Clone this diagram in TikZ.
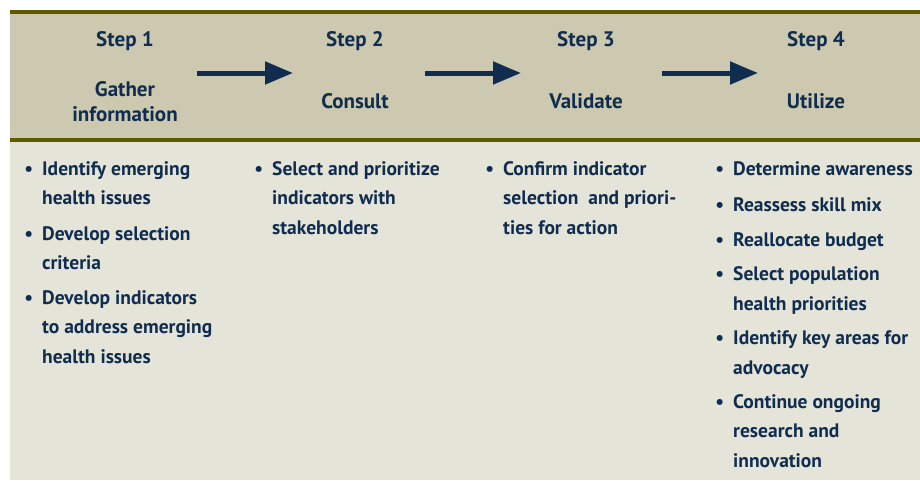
\documentclass[tikz,border=0pt]{standalone}
\usepackage{fontspec}
\setmainfont{PT Sans}
\usetikzlibrary{arrows.meta}
\definecolor{hdrfill}{HTML}{CCC9B0}
\definecolor{bodyfill}{HTML}{E5E4D8}
\definecolor{oliveline}{HTML}{5F5A00}
\definecolor{navy}{HTML}{102D50}
\tikzset{
  hd/.style={anchor=base, text=navy, font=\bfseries\fontsize{21}{25}\selectfont, inner sep=0pt, align=center},
  itm/.style={anchor=base west, text=navy, font=\bfseries\fontsize{19.5}{29.5}\selectfont, inner sep=0pt, align=left},
  flow/.style={navy, line width=5pt, -{Triangle[length=28pt,width=22pt]}}
}
\newcommand{\bul}{\llap{\textbullet\hspace{9pt}}}
\begin{document}
\begin{tikzpicture}[x=1pt,y=-1pt]
\useasboundingbox (0,0) rectangle (920,480);
\fill[hdrfill] (10,12) rectangle (920,140);
\fill[bodyfill] (10,140) rectangle (920,480);
\draw[oliveline, line width=4pt] (10,12) -- (920,12);
\draw[oliveline, line width=4pt] (10,140) -- (920,140);
% headers
\node[hd] (s1) at (125,46) {Step 1};
\node[hd] (s2) at (355,46) {Step 2};
\node[hd] (s3) at (586,46) {Step 3};
\node[hd] (s4) at (816,46) {Step 4};
\node[hd] (t1a) at (125,96) {Gather};
\node[hd] (t1b) at (125,121) {information};
\node[hd] (t2) at (355,108) {Consult};
\node[hd] (t3) at (586,108) {Validate};
\node[hd] (t4) at (816,108) {Utilize};
% arrows
\coordinate (a1s) at (197,73); \coordinate (a1e) at (293,73);
\coordinate (a2s) at (425,73); \coordinate (a2e) at (521,73);
\coordinate (a3s) at (662,73); \coordinate (a3e) at (758,73);
\draw[flow] (a1s) -- (a1e);
\draw[flow] (a2s) -- (a2e);
\draw[flow] (a3s) -- (a3e);
% column 1 (base anchor = baseline of last line)
\node[itm] (c1i1) at (42,204.5) {\bul Identify emerging\\health issues};
\node[itm] (c1i2) at (42,269.5) {\bul Develop selection\\criteria};
\node[itm] (c1i3) at (42,363) {\bul Develop indicators\\to address emerging\\health issues};
% column 2
\node[itm] (c2i1) at (272,234) {\bul Select and prioritize\\indicators with\\stakeholders};
% column 3
\node[itm] (c3i1) at (503,234) {\bul Confirm indicator\\selection\ \ and priori-\\ties for action};
% column 4
\node[itm] (c4i1) at (733,175) {\bul Determine awareness};
\node[itm] (c4i2) at (733,211) {\bul Reassess skill mix};
\node[itm] (c4i3) at (733,246) {\bul Reallocate budget};
\node[itm] (c4i4) at (733,310) {\bul Select population\\health priorities};
\node[itm] (c4i5) at (733,374) {\bul Identify key areas for\\advocacy};
\node[itm] (c4i6) at (733,467) {\bul Continue ongoing\\research and\\innovation};
\end{tikzpicture}
\end{document}
